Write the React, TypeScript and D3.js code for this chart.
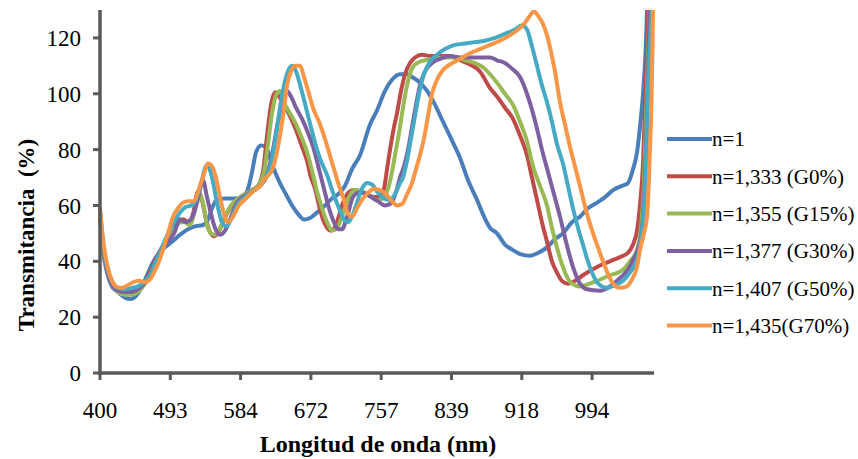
import React from "react";
import * as d3 from "d3";

// ---------- data ----------
const xTickLabels = [400, 493, 584, 672, 757, 839, 918, 994];
const xAxisEnd = 1058;
const yTicks = [0, 20, 40, 60, 80, 100, 120];
const yMax = 130;

const seriesNames = [
  "n=1",
  "n=1,333 (G0%)",
  "n=1,355 (G15%)",
  "n=1,377 (G30%)",
  "n=1,407 (G50%)",
  "n=1,435(G70%)",
];
const seriesColors = ["#4A7EBB", "#BE4B48", "#98B954", "#7D60A0", "#46AAC5", "#F79646"];

type P = [number, number];

const n1: P[] = [[400,58],[404,44],[409.3,36],[415.9,31],[423.8,29],[433.1,27],[441,26.5],[449,28],[455.6,31],[462.2,35],[468.8,39],[476.7,42.5],[486,45],[495.2,47],[505.6,49.5],[515.9,51.5],[525,52.5],[535.3,53],[541.8,55],[547,59],[553.4,62],[563.8,62.5],[576.7,62.5],[587,63],[593.3,66],[598.3,72],[603.3,79],[609.5,81.5],[615.8,81],[620.8,77],[627.1,72],[633.3,68],[640.8,64],[648.4,60],[655.9,57],[663.4,55],[670.9,55.5],[679.4,57.5],[689,60],[697.5,62.5],[704.8,64],[713.2,67],[721.7,73],[731.4,78],[743.5,89],[751.9,94],[761.4,101],[769.6,105],[778.9,107],[787.1,107],[792.9,106],[802.2,104],[810.5,101],[819.8,96],[829.1,90],[838.4,84],[848.6,77],[857.6,69],[867.7,62],[875.6,56],[882.3,52],[890.1,50],[899.1,46],[908.1,44],[917.1,42.5],[926.9,42],[935.5,43],[945.2,45],[953.9,48],[962.5,50],[972.2,54],[980.9,56],[989.5,59],[999.2,61],[1007.6,63],[1016,65.5],[1025.5,67],[1031.7,68],[1037,73],[1041.2,79],[1044.3,88],[1047.5,100],[1050.2,115],[1052.3,135]];

const g0: P[] = [[400,57],[404,45],[409.3,37],[415.9,32],[423.8,29.5],[433.1,28.5],[442.3,29],[450.3,30],[458.2,32],[466.2,36],[474.1,41],[482,45],[490,48],[497.8,51],[504.3,55],[510.7,55],[517.2,53.5],[522.4,57],[528.9,65],[534,62],[539.2,55],[544.4,50.5],[549.5,49],[554.7,50],[562.5,55],[570.3,59],[579.3,62],[589.5,64],[598.3,65.5],[605.8,67],[612,72],[617.1,85],[622.1,96],[627.1,100.5],[632.1,99],[638.3,96],[645.8,92],[653.4,87],[660.9,81],[667.1,76],[672.1,70],[677,66],[681.8,60],[686.6,55],[691.5,52],[696.3,51],[702.3,53],[709.6,60],[716.9,64.5],[724.1,65.5],[731.4,65],[739.8,64],[748.3,63],[755.5,63.5],[760.3,66],[763.8,73],[767.3,80],[771.9,88],[775.4,93],[780.1,101],[784.8,107],[790.6,111],[796.4,113],[804.6,114],[813.9,113.5],[825.6,113.5],[837.3,113.5],[848.6,112],[859.8,110.5],[871,108],[882.3,102],[890.1,99],[899.1,95],[908.1,91],[916,85],[923.6,78],[929,70],[934.4,62],[939.8,54],[945.2,47],[950.6,40],[956,36],[961.4,33],[967.9,32],[975.5,33],[984.1,35],[993.9,37],[1002.3,38.5],[1012.8,40],[1023.3,41.5],[1031.7,43],[1037,46],[1041.2,51],[1044.3,60],[1047.5,75],[1049.6,95],[1051.7,115],[1053.2,135]];

const g15: P[] = [[400,57],[404,45],[409.3,37],[415.9,32],[423.8,29],[433.1,28],[442.3,28],[450.3,29],[458.2,31.5],[466.2,35],[474.1,40],[482,44.5],[490,48],[497.8,51],[505.6,54],[512,54],[518.5,53],[523.7,57],[530.2,64.5],[535.3,61],[540.5,53],[545.7,50],[550.8,49.5],[556,51],[563.8,56],[571.6,60],[580.6,62.5],[589.5,64],[598.3,65.5],[605.8,67],[613.3,72],[618.3,82],[623.3,93],[628.3,99.5],[633.3,101],[638.3,97],[645.8,93],[653.4,89],[660.9,84],[668.4,78],[674.5,71],[679.4,65],[685.4,59],[691.5,54],[697.5,51],[703.6,52],[710.8,57],[718.1,63],[725.3,65.5],[733.8,65],[743.5,63.5],[751.9,62],[759.1,62.5],[765,66],[769.6,72],[773.1,78],[777.8,86],[782.4,95],[787.1,103],[792.9,109],[798.8,111],[808.1,112],[819.8,112.5],[831.4,113],[842.9,113],[854.2,112],[865.4,111],[874.4,109.5],[882.3,107],[890.1,104],[899.1,100],[908.1,96],[916,90],[923.6,83],[930.1,74],[937.7,67],[945.2,60],[950.6,52],[956,45],[961.4,39],[966.8,34.5],[972.2,32],[980.9,31],[991.7,32],[999.2,33],[1012.8,35],[1026.5,37],[1033.8,40],[1041.2,44],[1045.4,52],[1048.5,68],[1050.6,90],[1052.7,112],[1054.8,135]];

const g30: P[] = [[400,57],[404,46],[409.3,37],[415.9,32],[423.8,29.5],[433.1,29],[442.3,29],[450.3,30],[458.2,32],[466.2,35],[474.1,40],[482,44],[490,47],[497.8,50],[505.6,55],[513.3,54],[519.8,55],[527.6,61],[535.3,69],[540.5,63],[545.7,57],[550.8,52],[557.3,49.5],[563.8,51],[570.3,55],[579.3,61],[589.5,63.5],[598.3,65],[608.3,67],[615.8,70],[620.8,75],[625.8,82],[630.8,90],[637.1,97],[642.1,101],[647.1,99],[653.4,95],[660.9,91],[668.4,86],[675.7,80],[681.8,73],[687.8,66],[693.9,59],[699.9,54],[704.8,51.5],[709.6,51.5],[715.7,56],[722.9,63],[729,64.5],[736.2,64.5],[744.7,63],[753.1,61.5],[761.4,60],[767.3,60.5],[770.8,62],[775.4,66],[778.9,70],[783.6,74],[788.3,80],[792.9,88],[797.6,96],[802.2,103],[808.1,108],[816.3,111],[825.6,112.5],[837.3,113.5],[848.6,113],[859.8,113],[871,113],[882.3,113],[890.1,112],[899.1,111],[907,109],[916,106],[923.6,100],[930.1,93],[935.5,86],[939.8,80],[946.3,72],[952.8,64],[959.3,56],[965.8,47],[973.3,38],[980.9,32],[988.5,30],[1002.3,29.5],[1012.8,31],[1023.3,34],[1031.7,37],[1037,40.5],[1044.3,47],[1047.5,56],[1050.6,80],[1052.7,105],[1054.8,135]];

const g50: P[] = [[400,58],[404,47],[409.3,38],[415.9,33],[423.8,30.5],[433.1,30],[442.3,30.5],[450.3,31],[458.2,32.5],[466.2,35],[474.1,40],[482,45],[490,50],[497.8,54],[505.6,57.5],[513.3,59.5],[519.8,60],[526.3,62],[532.7,68],[540.5,74.5],[547,70],[553.4,61],[559.9,54],[565.1,52.5],[571.6,55],[579.3,60],[589.5,63],[598.3,65],[608.3,67],[615.8,70],[622.1,75],[628.3,85],[633.3,95],[638.3,103],[643.3,108],[648.4,110],[653.4,108],[659.6,102],[665.9,95],[672.1,88],[679.4,80],[685.4,75],[691.5,71],[698.7,64.5],[706,59],[712,55],[716.9,54],[721.7,56],[727.7,61],[733.8,66],[739.8,68],[745.9,67.5],[751.9,65],[759.1,62.7],[766.1,62],[773.1,64],[778.9,68],[782.4,70],[787.1,76],[791.8,84],[796.4,92],[801.1,100],[806.9,107],[813.9,111.5],[822.1,114],[831.4,116],[842.9,117.5],[854.2,118],[865.4,118.5],[876.7,119],[887.9,120],[899.1,121.5],[910.4,123],[918.2,124.5],[923.6,123],[929,117],[934.4,110],[939.8,103],[945.2,97],[950.6,90],[956,82],[962.5,75],[967.9,67],[973.3,59],[978.7,52],[984.1,46],[988.5,41],[993.9,36],[999.2,32.5],[1004.4,31],[1009.7,30.5],[1018.1,31.5],[1026.5,33],[1033.8,36],[1041.2,40.5],[1045.4,48],[1047.5,54],[1050.6,75],[1052.7,100],[1054.8,118],[1056.9,135]];

const g70: P[] = [[400,59],[404,48],[409.3,39],[415.9,33],[421.2,31],[429.1,30.5],[437,31.5],[443.7,32.5],[451.6,33],[459.5,32.5],[466.2,33.5],[471.4,36],[476.7,39],[483.3,44],[490,50],[496.5,56],[503,59],[509.4,61],[515.9,61.5],[523.7,61.5],[528.9,65],[535.3,70],[541.8,75],[547,74],[552.1,70],[557.3,63],[562.5,57],[567.7,54],[574.1,56],[581.9,60],[590.8,62.5],[599.5,65],[608.3,67],[615.8,70],[622.1,72],[627.1,76],[632.1,83],[637.1,92],[642.1,103],[647.1,108],[652.1,110],[658.4,110],[663.4,106],[669.6,100],[675.7,94],[681.8,90],[687.8,85],[693.9,79],[699.9,73],[706,67],[712,62],[716.9,57],[721.7,56],[727.7,59],[733.8,62],[741,64.5],[748.3,66],[755.5,65.5],[762.6,64],[769.6,61.5],[775.4,60],[781.3,60.5],[787.1,64],[792.9,68],[797.6,73],[802.2,78],[806.9,84],[811.6,92],[816.3,100],[822.1,105],[829.1,108.5],[837.3,110.5],[848.6,112.5],[859.8,114.5],[871,116],[882.3,117.5],[893.5,119],[904.8,121],[913.8,123],[920.4,125],[925.8,127.5],[931.2,129.5],[935.5,128],[940.9,125],[945.2,121],[949.6,115],[953.9,108],[959.3,97],[964.7,89],[970.1,81],[975.5,74],[980.9,67],[988.5,57],[995,50],[1000.2,45],[1005.5,40],[1010.7,35.5],[1016,32],[1023.3,30.5],[1030.7,31],[1035.9,33.5],[1041.2,38],[1044.3,44],[1048.5,50],[1051.7,56],[1054.8,80],[1056.9,105],[1058,130]];

const allSeries = [n1, g0, g15, g30, g50, g70];

// ---------- layout ----------
const W = 858;
const H = 459;
const left = 100;
const right = 653;
const top = 10;
const bottom = 373;
const tickStep = 70.3;
const axisColor = "#595959";
const serif = "'Liberation Serif', 'Times New Roman', serif";

export default function App() {
  const xDomain = [...xTickLabels, xAxisEnd];
  const xRange = [...xTickLabels.map((_, i) => left + i * tickStep), right];
  const x = d3.scaleLinear().domain(xDomain).range(xRange);
  const y = d3.scaleLinear().domain([0, yMax]).range([bottom, top]);
  const line = d3
    .line<P>()
    .x((d) => x(d[0]))
    .y((d) => y(d[1]))
    .curve(d3.curveMonotoneX);

  const legendX = 667;
  const legendY0 = 139;
  const legendStep = 37.3;

  return (
    <svg
      width={W}
      height={H}
      style={{ position: "absolute", left: 0, top: 0, background: "#fff" }}
      fontFamily={serif}
    >
      <defs>
        <clipPath id="plotClip">
          <rect x={left - 2} y={top} width={right - left + 6} height={bottom - top + 4} />
        </clipPath>
      </defs>
      <rect x={0} y={0} width={W} height={H} fill="#fff" />

      {/* series */}
      <g clipPath="url(#plotClip)">
        {allSeries.map((s, i) => (
          <path
            key={i}
            d={line(s) || ""}
            fill="none"
            stroke={seriesColors[i]}
            strokeWidth={4}
            strokeLinejoin="round"
            strokeLinecap="round"
          />
        ))}
      </g>

      {/* y axis */}
      <line x1={left} x2={left} y1={top} y2={bottom + 2} stroke={axisColor} strokeWidth={3.5} />
      {yTicks.map((t) => (
        <g key={t}>
          <line x1={left - 7} x2={left} y1={y(t)} y2={y(t)} stroke={axisColor} strokeWidth={3} />
          <text x={81} y={y(t)} dy="0.35em" textAnchor="end" fontSize={23} fill="#000">
            {t}
          </text>
        </g>
      ))}

      {/* x axis */}
      <line x1={left - 2} x2={right + 1} y1={bottom} y2={bottom} stroke={axisColor} strokeWidth={3.5} />
      {xTickLabels.map((t) => (
        <g key={t}>
          <line x1={x(t)} x2={x(t)} y1={bottom} y2={bottom + 7} stroke={axisColor} strokeWidth={3} />
          <text x={x(t)} y={418} textAnchor="middle" fontSize={23} fill="#000">
            {t}
          </text>
        </g>
      ))}

      {/* axis titles */}
      <text x={378} y={452} textAnchor="middle" fontSize={24} fontWeight="bold" fill="#000">
        Longitud de onda (nm)
      </text>
      <text
        transform={`translate(34, 235) rotate(-90)`}
        textAnchor="middle"
        fontSize={23}
        fontWeight="bold"
        fill="#000"
        style={{ whiteSpace: "pre" }}
      >
        {"Transmitancia  (%)"}
      </text>

      {/* legend */}
      {seriesNames.map((name, i) => {
        const ly = legendY0 + i * legendStep;
        return (
          <g key={name}>
            <line x1={legendX} x2={legendX + 45} y1={ly} y2={ly} stroke={seriesColors[i]} strokeWidth={4} />
            <text x={legendX + 45} y={ly} dy="0.35em" fontSize={21} fill="#000">
              {name}
            </text>
          </g>
        );
      })}
    </svg>
  );
}
